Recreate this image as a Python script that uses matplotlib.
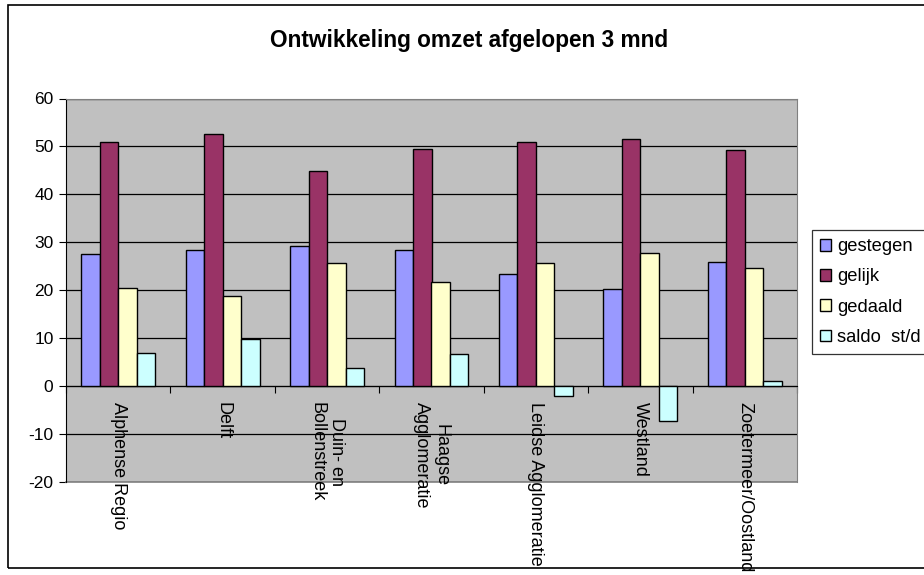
import matplotlib.pyplot as plt
from matplotlib.patches import Rectangle
import numpy as np

plt.rcParams['font.family'] = ['Liberation Sans', 'DejaVu Sans']
plt.rcParams['axes.unicode_minus'] = False

regios = ['Alphense Regio', 'Delft', 'Duin- en\nBollenstreek', 'Haagse\nAgglomeratie',
          'Leidse Agglomeratie', 'Westland', 'Zoetermeer/Oostland']
gestegen = [27.6, 28.3, 29.2, 28.3, 23.3, 20.2, 25.9]
gelijk = [51.0, 52.6, 44.9, 49.5, 51.0, 51.6, 49.3]
gedaald = [20.5, 18.7, 25.6, 21.7, 25.6, 27.7, 24.6]
saldo = [7.0, 9.8, 3.8, 6.7, -2.1, -7.3, 1.0]

series = [('gestegen', gestegen, '#9999FF'),
          ('gelijk', gelijk, '#993366'),
          ('gedaald', gedaald, '#FFFFCC'),
          ('saldo  st/d', saldo, '#CCFFFF')]

fig = plt.figure(figsize=(9.24, 5.75), dpi=100)
ax = fig.add_axes([66/924, 1-482/575, (797-66)/924, (482-98.5)/575])
ax.set_facecolor('#C0C0C0')

x = np.arange(len(regios))
w = 0.177
for k, (name, vals, col) in enumerate(series):
    ax.bar(x + (k-1.5)*w, vals, w, color=col, edgecolor='black', linewidth=1.0,
           label=name, zorder=3)

ax.set_xlim(-0.5, len(regios)-0.5)
ax.set_ylim(-20, 60)
ax.set_yticks(range(-20, 61, 10))
ax.yaxis.grid(True, color='black', linewidth=0.9, zorder=1)
ax.tick_params(axis='y', direction='out', length=5, width=0.8, labelsize=12.5, pad=4)

# category axis at zero
ax.spines['bottom'].set_position(('data', 0))
ax.spines['bottom'].set_color('black')
ax.spines['left'].set_color('black')
ax.spines['top'].set_color('#808080')
ax.spines['right'].set_color('#808080')
ax.set_xticks(np.arange(-0.5, len(regios), 1.0))
ax.set_xticklabels([])
ax.tick_params(axis='x', direction='out', length=5, width=0.8)
ax.plot([0, 1], [0, 0], transform=ax.transAxes, color='#808080', lw=1.2, clip_on=False)

for i, lab in enumerate(regios):
    ax.annotate(lab, xy=(i, 0), xytext=(0, -11.5), textcoords='offset points',
                rotation=270, ha='center', va='top', multialignment='center',
                fontsize=13, annotation_clip=False, zorder=4)

fig.text(469/924, 1-41/575, 'Ontwikkeling omzet afgelopen 3 mnd', ha='center', va='center',
         fontsize=16.3, fontweight='bold')

leg = fig.legend(loc='upper left', bbox_to_anchor=(812/924, 1-230/575), frameon=True,
                 fancybox=False, edgecolor='black', fontsize=13.2, handlelength=0.6,
                 handleheight=0.6, handletextpad=0.3, labelspacing=0.72,
                 borderpad=0.45, borderaxespad=0)
leg.get_frame().set_linewidth(0.9)

fig.patches.append(Rectangle((8/924, 1-568/575), 1.2, (568-4.5)/575, transform=fig.transFigure,
                             fill=False, edgecolor='black', linewidth=1.2, zorder=0))

fig.savefig('out.png', dpi=100)
